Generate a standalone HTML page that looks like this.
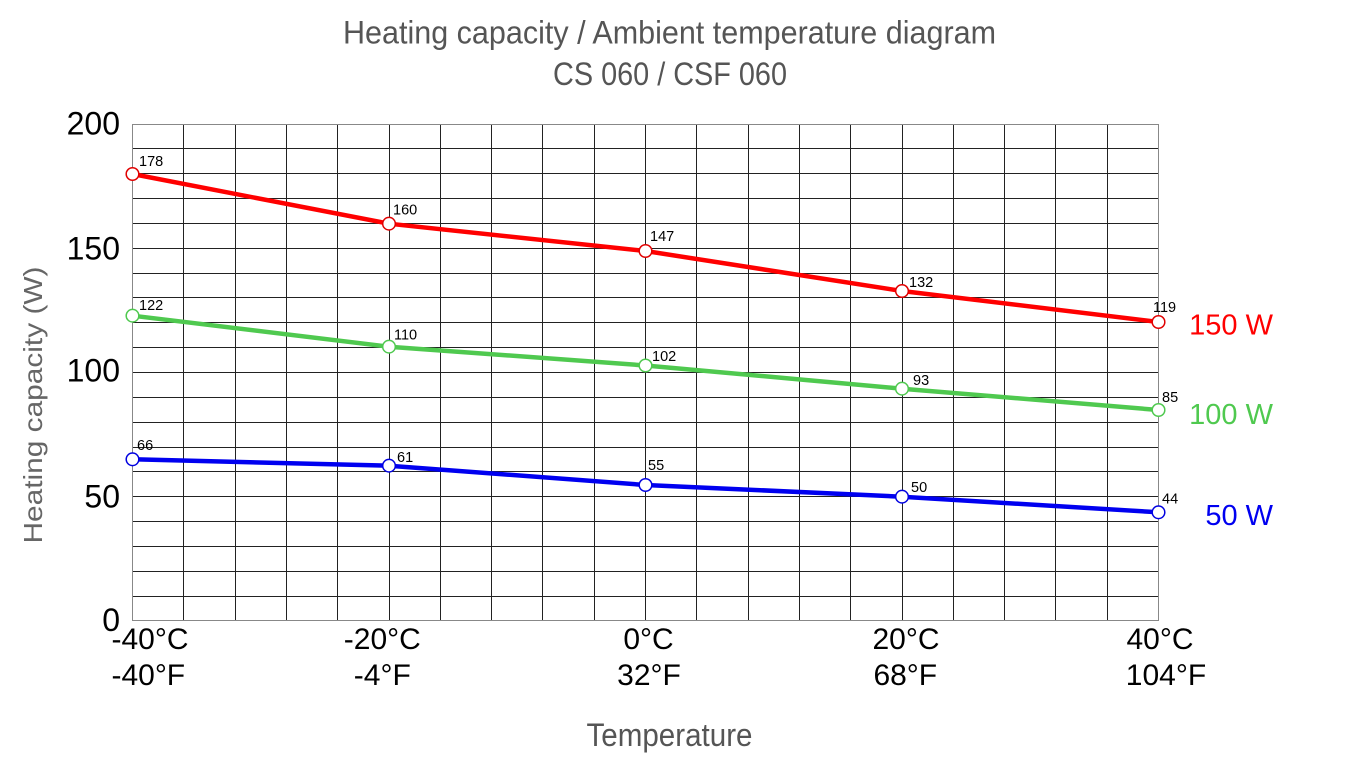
<!DOCTYPE html>
<html>
<head>
<meta charset="utf-8">
<style>
  html,body{margin:0;padding:0;background:#fff;}
  body{width:1357px;height:773px;overflow:hidden;}
  svg{display:block;}
  .ttl{font-family:"Liberation Sans Narrow","Liberation Sans",sans-serif;fill:#555;}
  .ax{font-family:"Liberation Sans",Arial,sans-serif;fill:#000;}
  .lbl{font-family:"Liberation Sans",Arial,sans-serif;font-size:14.5px;fill:#000;}
</style>
</head>
<body>
<svg width="1357" height="773" viewBox="0 0 1357 773" xmlns="http://www.w3.org/2000/svg">
  <rect width="1357" height="773" fill="#fff"/>

  <!-- Titles -->
  <text class="ttl" x="669.5" y="43.5" font-size="32" text-anchor="middle" textLength="653" lengthAdjust="spacingAndGlyphs">Heating capacity / Ambient temperature diagram</text>
  <text class="ttl" x="670" y="85" font-size="32" text-anchor="middle" textLength="234" lengthAdjust="spacingAndGlyphs">CS 060 / CSF 060</text>
  <text class="ttl" x="669.5" y="746" font-size="32" text-anchor="middle" textLength="166" lengthAdjust="spacingAndGlyphs">Temperature</text>

  <!-- Y axis title -->
  <text x="42" y="405" transform="rotate(-90 42 405)" font-family="Liberation Sans, Arial, sans-serif" font-size="26" fill="#666" text-anchor="middle" textLength="277" lengthAdjust="spacingAndGlyphs">Heating capacity (W)</text>

  <!-- Grid -->
  <g stroke="#222" stroke-width="1" fill="none">
    <path d="
      M183.5 124V621 M235.5 124V621 M286.5 124V621 M337.5 124V621 M389.5 124V621
      M440.5 124V621 M491.5 124V621 M542.5 124V621 M594.5 124V621 M645.5 124V621
      M696.5 124V621 M748.5 124V621 M799.5 124V621 M850.5 124V621 M902.5 124V621
      M953.5 124V621 M1004.5 124V621 M1055.5 124V621 M1107.5 124V621
      M132.5 148.5H1158.5 M132.5 173.5H1158.5 M132.5 198.5H1158.5 M132.5 223.5H1158.5
      M132.5 248.5H1158.5 M132.5 273.5H1158.5 M132.5 297.5H1158.5 M132.5 322.5H1158.5
      M132.5 347.5H1158.5 M132.5 372.5H1158.5 M132.5 397.5H1158.5 M132.5 422.5H1158.5
      M132.5 447.5H1158.5 M132.5 471.5H1158.5 M132.5 496.5H1158.5 M132.5 521.5H1158.5
      M132.5 546.5H1158.5 M132.5 571.5H1158.5 M132.5 596.5H1158.5"/>
  </g>
  <rect x="132.5" y="124.5" width="1026" height="496" fill="none" stroke="#888" stroke-width="1"/>

  <!-- Y tick labels -->
  <g class="ax" font-size="32" text-anchor="end">
    <text x="120" y="134.3">200</text>
    <text x="120" y="259.3">150</text>
    <text x="120" y="381.7">100</text>
    <text x="120" y="507.3">50</text>
    <text x="120" y="631">0</text>
  </g>

  <!-- X tick labels -->
  <g class="ax" font-size="30" text-anchor="middle">
    <text x="150" y="649">-40°C</text>
    <text x="382.3" y="649">-20°C</text>
    <text x="648.5" y="649">0°C</text>
    <text x="906" y="649">20°C</text>
    <text x="1160" y="649">40°C</text>
    <text x="148.3" y="685">-40°F</text>
    <text x="382.3" y="685">-4°F</text>
    <text x="649" y="685">32°F</text>
    <text x="905.3" y="685">68°F</text>
    <text x="1166" y="685">104°F</text>
  </g>

  <!-- Series lines -->
  <g fill="none" stroke-width="4.5" stroke-linejoin="round" stroke-linecap="round">
    <polyline stroke="#ff0000" points="132.5,174 389,223.7 645.5,251 902,291 1158.5,322"/>
    <polyline stroke="#4fc94f" points="132.5,315.7 389,346.7 645.5,365.5 902,388.7 1158.5,410"/>
    <polyline stroke="#0000f0" points="132.5,459.3 389,465.7 645.5,485 902,496.7 1158.5,512.3"/>
  </g>

  <!-- Markers -->
  <g fill="#fff" stroke-width="1.5">
    <g stroke="#e00000">
      <circle cx="132.5" cy="174" r="6.3"/>
      <circle cx="389" cy="223.7" r="6.3"/>
      <circle cx="645.5" cy="251" r="6.3"/>
      <circle cx="902" cy="291" r="6.3"/>
      <circle cx="1158.5" cy="322" r="6.3"/>
    </g>
    <g stroke="#4fc94f">
      <circle cx="132.5" cy="315.7" r="6.3"/>
      <circle cx="389" cy="346.7" r="6.3"/>
      <circle cx="645.5" cy="365.5" r="6.3"/>
      <circle cx="902" cy="388.7" r="6.3"/>
      <circle cx="1158.5" cy="410" r="6.3"/>
    </g>
    <g stroke="#0000e0">
      <circle cx="132.5" cy="459.3" r="6.3"/>
      <circle cx="389" cy="465.7" r="6.3"/>
      <circle cx="645.5" cy="485" r="6.3"/>
      <circle cx="902" cy="496.7" r="6.3"/>
      <circle cx="1158.5" cy="512.3" r="6.3"/>
    </g>
  </g>

  <!-- Point labels -->
  <g class="lbl">
    <text x="139" y="166">178</text>
    <text x="393" y="214.5">160</text>
    <text x="650" y="241">147</text>
    <text x="909" y="287">132</text>
    <text x="1153" y="312">119</text>

    <text x="139" y="310">122</text>
    <text x="394" y="339.5">110</text>
    <text x="652" y="361">102</text>
    <text x="913" y="385">93</text>
    <text x="1162" y="402">85</text>

    <text x="137" y="450">66</text>
    <text x="397" y="462">61</text>
    <text x="648" y="470">55</text>
    <text x="911" y="492">50</text>
    <text x="1162" y="503.5">44</text>
  </g>

  <!-- Series names -->
  <g font-family="Liberation Sans, Arial, sans-serif" font-size="29" text-anchor="end">
    <text x="1273" y="334.3" fill="#ff0000">150 W</text>
    <text x="1273" y="424" fill="#4fc94f">100 W</text>
    <text x="1273" y="525" fill="#0000f0">50 W</text>
  </g>
</svg>
</body>
</html>
